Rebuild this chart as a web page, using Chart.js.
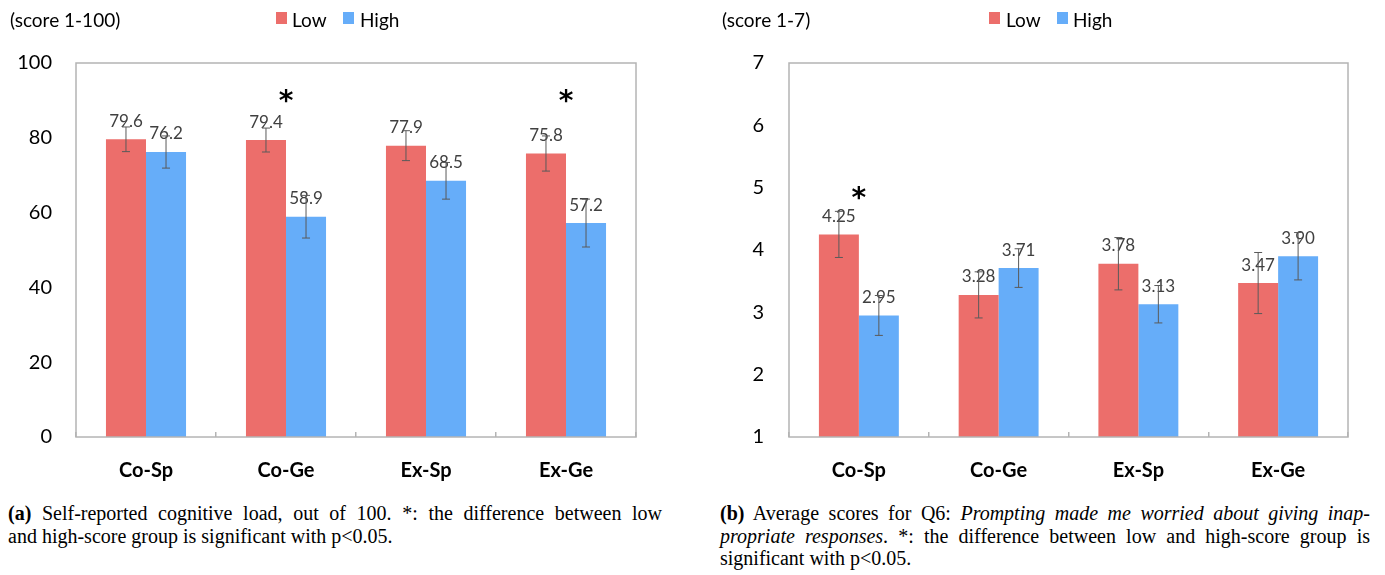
<!DOCTYPE html>
<html>
<head>
<meta charset="utf-8">
<script src="https://cdn.jsdelivr.net/npm/chart.js@4.4.0/dist/chart.umd.min.js"></script>
<style>
  body { margin: 0; background: #fff; }
  #page { position: relative; width: 1385px; height: 575px; overflow: hidden; background: #fff; font-family: Lato, sans-serif; }
  canvas { position: absolute; top: 0; }
  .lbl { position: absolute; font-size: 19px; line-height: 20px; color: #000; white-space: nowrap; }
  .box { position: absolute; width: 11px; height: 12px; }
  .cap { position: absolute; font-family: "Liberation Serif", serif; font-size: 20px; line-height: 22.5px; color: #000; }
  .cap .full { text-align: justify; text-align-last: justify; }
</style>
</head>
<body>
<div id="page">
  <canvas id="chartA" width="690" height="500" style="left:0px"></canvas>
  <canvas id="chartB" width="695" height="500" style="left:690px"></canvas>

  <div class="lbl" style="left:10px; top:10px">(score 1-100)</div>
  <div class="box" style="left:276px; top:12px; background:#EC6E6B"></div>
  <div class="lbl" style="left:292px; top:10px">Low</div>
  <div class="box" style="left:343px; top:12px; background:#66ADF9"></div>
  <div class="lbl" style="left:360px; top:10px">High</div>

  <div class="lbl" style="left:722px; top:10px">(score 1-7)</div>
  <div class="box" style="left:989px; top:12px; background:#EC6E6B"></div>
  <div class="lbl" style="left:1006px; top:10px">Low</div>
  <div class="box" style="left:1057px; top:12px; background:#66ADF9"></div>
  <div class="lbl" style="left:1073px; top:10px">High</div>

  <div class="cap" style="left:8px; top:502px; width:654px">
    <div class="full"><b>(a)</b> Self-reported cognitive load, out of 100. *: the difference between low</div>
    <div>and high-score group is significant with p&lt;0.05.</div>
  </div>
  <div class="cap" style="left:720px; top:502px; width:650px">
    <div class="full"><b>(b)</b> Average scores for Q6: <i>Prompting made me worried about giving inap-</i></div>
    <div class="full"><i>propriate responses</i>. *: the difference between low and high-score group is</div>
    <div>significant with p&lt;0.05.</div>
  </div>
</div>

<script>
// categories shared by both panels
const categories = ['Co-Sp', 'Co-Ge', 'Ex-Sp', 'Ex-Ge'];

// (a) cognitive load, score 1-100
const loadLow = [79.6, 79.4, 77.9, 75.8];
const loadHigh = [76.2, 58.9, 68.5, 57.2];
const loadLowErr = [3.3, 3.2, 4.0, 4.7];
const loadHighErr = [4.3, 5.7, 4.9, 6.4];
const loadSig = [false, true, false, true];
const loadTicks = [0, 20, 40, 60, 80, 100];

// (b) Q6 scores, score 1-7
const q6Low = [4.25, 3.28, 3.78, 3.47];
const q6High = [2.95, 3.71, 3.13, 3.90];
const q6LowErr = [0.37, 0.37, 0.42, 0.49];
const q6HighErr = [0.32, 0.31, 0.30, 0.38];
const q6Sig = [true, false, false, false];
const q6Ticks = [1, 2, 3, 4, 5, 6, 7];

const RED = '#EC6E6B';
const BLUE = '#66ADF9';

// draws the grey frame, value labels, error bars and significance stars
const extrasPlugin = {
    id: 'extras',
    afterDatasetsDraw(chart, args, opts) {
        const ctx = chart.ctx;
        const area = chart.chartArea;
        const yScale = chart.scales.y;
        const xScale = chart.scales.x;

        ctx.save();
        ctx.strokeStyle = '#b4b4b4';
        ctx.lineWidth = 1.5;
        ctx.strokeRect(area.left, area.top, area.right - area.left, area.bottom - area.top);

        chart.data.datasets.forEach((ds, di) => {
            const meta = chart.getDatasetMeta(di);
            meta.data.forEach((bar, i) => {
                // value label
                ctx.fillStyle = '#404040';
                ctx.font = '17px Lato';
                ctx.textAlign = 'center';
                ctx.textBaseline = 'middle';
                ctx.fillText(ds.data[i].toFixed(opts.decimals), bar.x, bar.y - 18);

                // error bar
                const e = ds.errors[i];
                const yTop = yScale.getPixelForValue(ds.data[i] + e);
                const yBot = yScale.getPixelForValue(ds.data[i] - e);
                ctx.strokeStyle = '#5a5a5a';
                ctx.lineWidth = 1;
                ctx.beginPath();
                ctx.moveTo(bar.x, yTop); ctx.lineTo(bar.x, yBot);
                ctx.moveTo(bar.x - 4, yTop); ctx.lineTo(bar.x + 4, yTop);
                ctx.moveTo(bar.x - 4, yBot); ctx.lineTo(bar.x + 4, yBot);
                ctx.stroke();
            });
        });

        // stars
        ctx.fillStyle = '#000';
        ctx.font = 'bold 28px "DejaVu Sans"';
        ctx.textAlign = 'center';
        ctx.textBaseline = 'middle';
        opts.sig.forEach((s, i) => {
            if (!s) return;
            ctx.fillText('*', xScale.getPixelForValue(i), yScale.getPixelForValue(opts.starLevel) + 6);
        });
        ctx.restore();
    }
};

function makeChart(canvasId, low, high, lowErr, highErr, sig, ticks, opt) {
    const ctx = document.getElementById(canvasId);
    return new Chart(ctx, {
        type: 'bar',
        data: {
            labels: categories,
            datasets: [
                { label: 'Low', data: low, errors: lowErr, backgroundColor: RED, base: ticks[0] },
                { label: 'High', data: high, errors: highErr, backgroundColor: BLUE, base: ticks[0] }
            ]
        },
        options: {
            responsive: false,
            animation: false,
            devicePixelRatio: 1,
            layout: { padding: { left: 0, right: opt.padRight, top: 63, bottom: 0 } },
            datasets: { bar: { categoryPercentage: 0.572, barPercentage: 1.0 } },
            plugins: {
                legend: { display: false },
                tooltip: { enabled: false },
                extras: { decimals: opt.decimals, sig: sig, starLevel: opt.starLevel }
            },
            scales: {
                x: {
                    grid: { offset: true, drawOnChartArea: false, tickLength: -5, color: '#b4b4b4', lineWidth: 1.5 },
                    border: { display: false },
                    ticks: { color: '#000', font: { family: 'Lato', size: 20, weight: 'bold' }, padding: 27 },
                    afterFit: (s) => { s.height = 63; }
                },
                y: {
                    min: ticks[0],
                    max: ticks[ticks.length - 1],
                    afterBuildTicks: (s) => { s.ticks = ticks.map(v => ({ value: v })); },
                    grid: { display: false, drawTicks: false },
                    border: { display: false },
                    ticks: { color: '#000', font: { family: 'Lato', size: 20 }, padding: opt.tickPad },
                    afterFit: (s) => { s.width = opt.axisWidth; }
                }
            }
        },
        plugins: [extrasPlugin]
    });
}

function mainEvent() {
    makeChart('chartA', loadLow, loadHigh, loadLowErr, loadHighErr, loadSig, loadTicks,
        { padRight: 54, axisWidth: 76, tickPad: 24, decimals: 1, starLevel: 91 });
    makeChart('chartB', q6Low, q6High, q6LowErr, q6HighErr, q6Sig, q6Ticks,
        { padRight: 37, axisWidth: 99, tickPad: 25, decimals: 2, starLevel: 4.91 });
}

document.addEventListener('DOMContentLoaded', () => mainEvent());
</script>
</body>
</html>
